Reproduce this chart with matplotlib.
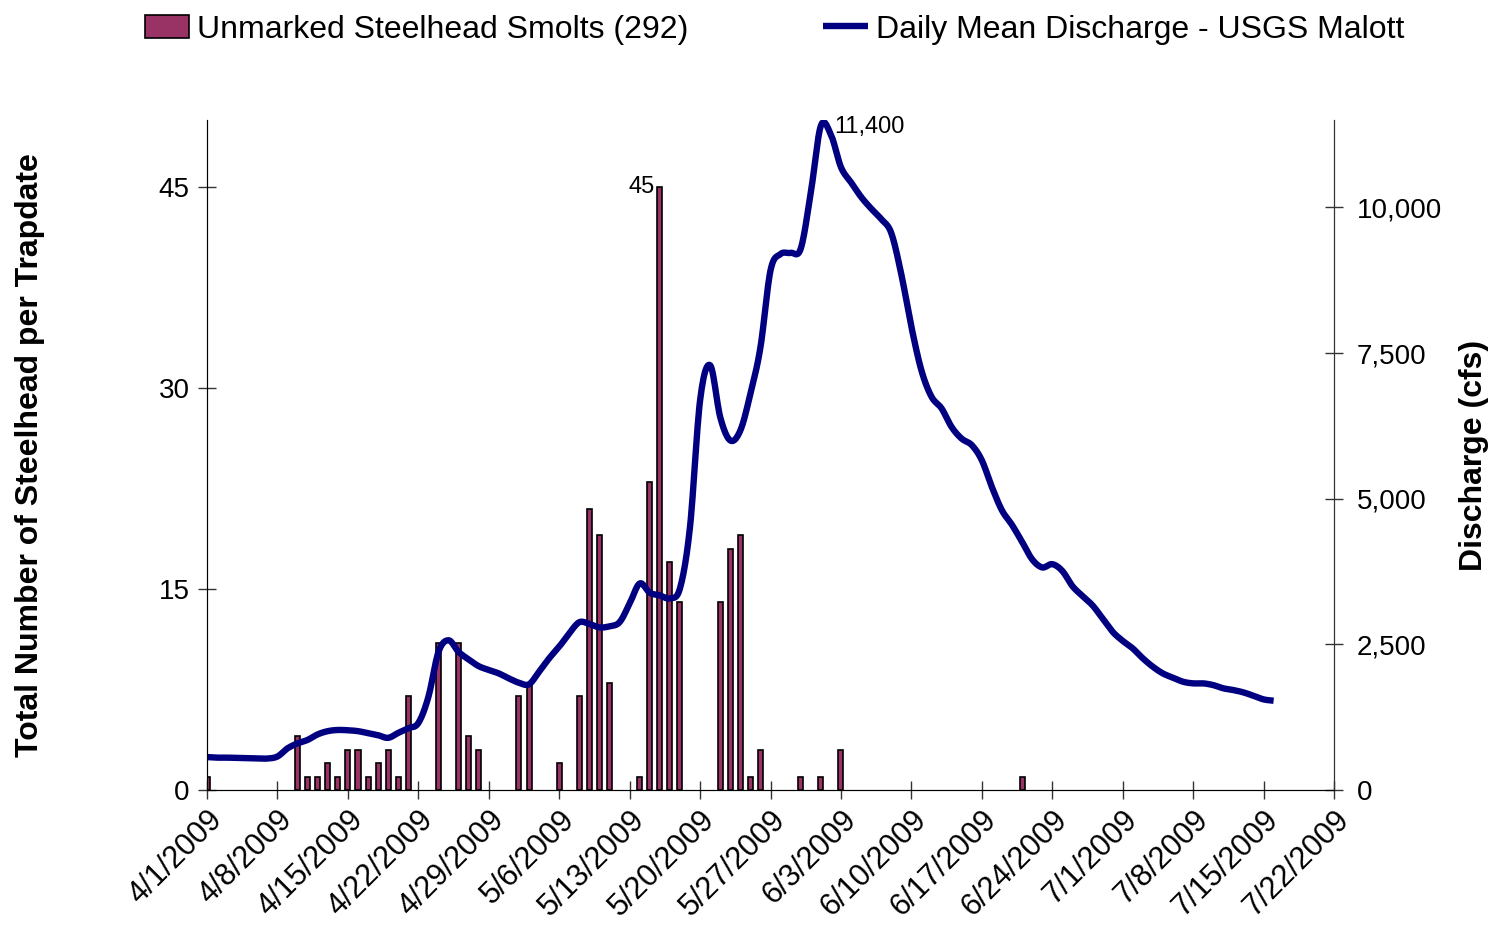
import datetime as dt
import numpy as np
import matplotlib
matplotlib.use("Agg")
import matplotlib.pyplot as plt
import matplotlib.dates as mdates
from matplotlib.ticker import FuncFormatter

plt.rcParams['font.family'] = ['Liberation Sans', 'DejaVu Sans']

# trap catches: date, number of unmarked steelhead smolts
catch_dates = ['2009-04-01', '2009-04-10', '2009-04-11', '2009-04-12', '2009-04-13',
               '2009-04-14', '2009-04-15', '2009-04-16', '2009-04-17', '2009-04-18',
               '2009-04-19', '2009-04-20', '2009-04-21', '2009-04-24', '2009-04-26',
               '2009-04-27', '2009-04-28', '2009-05-02', '2009-05-03', '2009-05-06',
               '2009-05-08', '2009-05-09', '2009-05-10', '2009-05-11', '2009-05-14',
               '2009-05-15', '2009-05-16', '2009-05-17', '2009-05-18', '2009-05-22',
               '2009-05-23', '2009-05-24', '2009-05-25', '2009-05-26', '2009-05-30',
               '2009-06-01', '2009-06-03', '2009-06-21']
catch_counts = [1, 4, 1, 1, 2, 1, 3, 3, 1, 2, 3, 1, 7, 11, 11, 4, 3, 7, 8, 2,
                7, 21, 19, 8, 1, 23, 45, 17, 14, 14, 18, 19, 1, 3, 1, 1, 3, 1]

# daily mean discharge (cfs), USGS Malott, starting 4/1/2009
flow_start = '2009-04-01'
flow_cfs = [565, 555, 555, 550, 545, 540, 540, 575, 715, 800,
            860, 955, 1010, 1030, 1025, 1010, 975, 940, 895, 980,
            1060, 1150, 1600, 2370, 2570, 2370, 2240, 2125, 2060, 2000,
            1915, 1840, 1815, 2030, 2260, 2460, 2690, 2880, 2850, 2790,
            2810, 2880, 3200, 3545, 3385, 3340, 3290, 3460, 4520, 6690,
            7290, 6400, 6000, 6170, 6800, 7600, 8920, 9200, 9220, 9290,
            10250, 11400, 11250, 10690, 10430, 10180, 9980, 9800, 9560, 8850,
            7950, 7200, 6750, 6550, 6230, 6030, 5920, 5660, 5200, 4800,
            4550, 4260, 3960, 3820, 3876, 3760, 3500, 3330, 3170, 2945,
            2715, 2560, 2430, 2260, 2115, 2000, 1927, 1858, 1830, 1830,
            1800, 1745, 1715, 1675, 1617, 1555, 1532]

tick_start = '2009-04-01'
n_ticks = 17


def smooth(x, y, n=12):
    # Catmull-Rom curve through the points, like Excel's smoothed line
    x = np.asarray(x, float)
    y = np.asarray(y, float)
    t = np.linspace(0, 1, n, endpoint=False)[:, None]
    res = []
    for p in (x, y):
        p = np.concatenate([[p[0]], p, [p[-1]]])
        p0, p1, p2, p3 = p[:-3], p[1:-2], p[2:-1], p[3:]
        c = 0.5 * ((2 * p1) + (-p0 + p2) * t + (2 * p0 - 5 * p1 + 4 * p2 - p3) * t ** 2
                   + (-p0 + 3 * p1 - 3 * p2 + p3) * t ** 3)
        res.append(np.append(c.T.ravel(), p[-2]))
    return res[0], res[1]


catch_x = [dt.datetime.strptime(d, '%Y-%m-%d') for d in catch_dates]
t0 = dt.datetime.strptime(flow_start, '%Y-%m-%d')
flow_x = [t0 + dt.timedelta(days=i) for i in range(len(flow_cfs))]
tk0 = dt.datetime.strptime(tick_start, '%Y-%m-%d')
ticks = [tk0 + dt.timedelta(days=7 * i) for i in range(n_ticks)]

fig = plt.figure(figsize=(14.95, 9.39), dpi=100)
ax = fig.add_axes([0.1385, 0.1587, 0.8923 - 0.1385, 0.8722 - 0.1587])
ax2 = ax.twinx()

bars = ax.bar(catch_x, catch_counts, width=0.5, color='#993366',
              edgecolor='black', linewidth=1.2, zorder=2,
              label='Unmarked Steelhead Smolts (292)')
sx, sy = smooth(mdates.date2num(flow_x), flow_cfs)
line, = ax2.plot(sx, sy, color='#000080', linewidth=4.6,
                 solid_joinstyle='round', solid_capstyle='butt',
                 label='Daily Mean Discharge - USGS Malott')

ax.set_xlim(ticks[0], ticks[-1])
ax.set_ylim(0, 50)
ax2.set_ylim(0, 11500)
ax.set_yticks([0, 15, 30, 45])
ax2.set_yticks([0, 2500, 5000, 7500, 10000])
ax2.yaxis.set_major_formatter(FuncFormatter(lambda v, p: f'{int(v):,}'))

ax.set_xticks(ticks)
ax.set_xticklabels([f'{t.month}/{t.day}/{t.year}' for t in ticks],
                   rotation=45, ha='right', rotation_mode='anchor')

for a in (ax, ax2):
    a.spines['top'].set_visible(False)
    a.tick_params(labelsize=20, direction='inout', length=13, width=1,
                  color='#333333')
ax.tick_params(axis='x', labelsize=22, pad=4)
ax.tick_params(axis='y', pad=6)
ax2.tick_params(axis='y', pad=10)
for s in ('left', 'bottom'):
    ax.spines[s].set_color('#333333')
ax2.spines['right'].set_color('#333333')

ax.set_ylabel('Total Number of Steelhead per Trapdate', fontsize=23,
              fontweight='bold', labelpad=82)
ax2.set_ylabel('Discharge (cfs)', fontsize=23, fontweight='bold', labelpad=12)

# annotations
i_max = catch_counts.index(max(catch_counts))
ax.annotate(f'{catch_counts[i_max]}', (catch_x[i_max], catch_counts[i_max]),
            xytext=(-4, 0), textcoords='offset points', ha='right',
            va='center', fontsize=17)
j_max = flow_cfs.index(max(flow_cfs))
ax2.annotate(f'{flow_cfs[j_max]:,}', (flow_x[j_max], flow_cfs[j_max]),
             xytext=(10, -1), textcoords='offset points', ha='left',
             va='center', fontsize=17)

fig.legend(handles=[bars, line], loc='upper center', ncol=2,
           bbox_to_anchor=(0.518, 1.015), frameon=False, fontsize=23,
           columnspacing=4.2, handlelength=1.4, handletextpad=0.25)

fig.savefig('out.png', dpi=100)
